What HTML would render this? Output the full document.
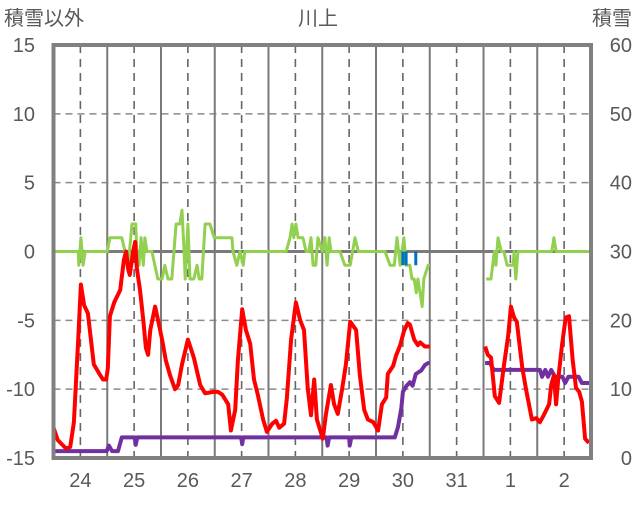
<!DOCTYPE html>
<html><head><meta charset="utf-8"><style>
body{margin:0;background:#fff;width:636px;height:501px;overflow:hidden}
svg text{font-family:"Liberation Sans","Noto Sans CJK JP",sans-serif;fill:#595959}
</style></head><body>
<svg id="chart" width="636" height="501" xmlns="http://www.w3.org/2000/svg">
<g id="grid"></g>
<g id="series"></g>
<g id="axes"></g>
<text x="318" y="25" font-size="20" text-anchor="middle">川上</text>
<text x="4" y="25" font-size="20">積雪以外</text>
<text x="632" y="25" font-size="20" text-anchor="end">積雪</text>
</svg>
<script>
const dayLabels=["24","25","26","27","28","29","30","31","1","2"];
const leftTicks=[-15,-10,-5,0,5,10,15];
const rightTicks=[0,10,20,30,40,50,60];
const tempT=[0,.08,.23,.31,.38,.46,.51,.57,.64,.75,.87,.92,.98,1.01,1.05,1.13,1.24,1.31,1.35,1.39,1.42,1.48,1.52,1.55,1.61,1.67,1.72,1.76,1.8,1.89,1.94,2.02,2.09,2.17,2.26,2.32,2.39,2.5,2.61,2.73,2.82,2.97,3.06,3.14,3.25,3.3,3.38,3.43,3.51,3.58,3.66,3.73,3.8,3.9,3.97,4.07,4.14,4.2,4.29,4.34,4.42,4.51,4.59,4.66,4.73,4.79,4.85,4.9,5.01,5.07,5.16,5.22,5.29,5.37,5.44,5.52,5.63,5.7,5.78,5.85,5.95,6.04,6.11,6.19,6.22,6.32,6.37,6.45,6.52,6.59,6.63,6.71,6.78,6.82,6.91,7.0,null,8.03,8.08,8.14,8.21,8.29,8.38,8.46,8.51,8.57,8.62,8.72,8.79,8.9,8.98,9.05,9.12,9.22,9.26,9.31,9.35,9.39,9.46,9.53,9.59,9.66,9.72,9.78,9.83,9.89,9.96];
const tempV=[-12.8,-13.7,-14.3,-14.2,-12.4,-6.4,-2.4,-3.9,-4.5,-8.2,-9,-9.3,-9.3,-8.5,-4.7,-3.7,-2.8,-0.6,0,-1.3,-1.7,0,0.7,-1.2,-2.8,-5,-7,-7.5,-5.7,-4,-4.9,-6.4,-7.9,-9,-10,-9.7,-8.2,-6.4,-7.7,-9.7,-10.3,-10.2,-10.2,-10.4,-11.1,-13,-11.5,-7.9,-4.2,-5.7,-6.7,-9.3,-10.4,-12.2,-13.1,-12.5,-12.3,-12.8,-12.5,-10.7,-6.4,-3.7,-5,-5.7,-9.9,-11.9,-9.3,-12.2,-13.6,-11.8,-9.7,-11.1,-11.8,-10,-8.2,-5.1,-5.7,-9,-11.5,-12.2,-12.4,-13,-11.1,-10.6,-8.9,-8.3,-7.6,-6.8,-5.8,-5.2,-5.3,-6.4,-6.8,-6.6,-6.9,-6.9,null,-6.9,-7.5,-7.7,-10.5,-11,-8.3,-6.1,-4,-4.8,-5.1,-8.4,-10,-12.2,-12.1,-12.4,-11.9,-11.1,-9.7,-9,-11.1,-9.3,-6.8,-4.8,-4.7,-7.9,-9.9,-10.2,-10.9,-13.6,-13.9];
const snowT=[0,.99,1.03,1.09,1.2,1.27,1.51,1.53,1.56,3.49,3.51,3.53,5.08,5.1,5.13,5.5,5.51,5.54,6.35,6.41,6.47,6.5,6.57,6.63,6.68,6.74,6.84,6.91,6.97,7.0,null,8.03,8.12,8.19,9.05,9.09,9.15,9.2,9.26,9.33,9.47,9.52,9.58,9.77,9.83,10];
const snowV=[1,1,1.8,1,1,3,3,1.9,3,3,2,3,3,1.8,3,3,1.8,3,3,4.5,7.2,9.6,10.5,11,10.5,12.2,12.7,13.5,13.8,13.8,null,13.8,13.8,12.8,12.8,11.8,12.8,11.8,12.8,11.8,11.8,10.9,11.8,11.8,10.9,10.9];
const windT=[0,.46,.47,.51,.55,.59,1,1.05,1.27,1.33,1.39,1.46,1.53,1.55,1.59,1.63,1.67,1.7,1.74,1.83,1.94,2.02,2.07,2.13,2.2,2.28,2.35,2.39,2.43,2.45,2.5,2.54,2.61,2.67,2.71,2.76,2.82,2.91,2.99,3.25,3.32,3.34,3.41,3.47,3.53,3.56,4.33,4.4,4.44,4.47,4.51,4.55,4.64,4.7,4.75,4.79,4.83,4.88,4.92,5,5.05,5.09,5.13,5.16,5.33,5.42,5.52,5.61,5.67,6.17,6.26,6.34,6.39,6.45,6.52,6.56,6.63,6.67,6.71,6.75,6.78,6.82,6.86,6.89,6.97,7,null,8.05,8.14,8.2,8.23,8.27,8.33,8.38,8.44,8.55,8.57,8.6,8.64,9.27,9.31,9.35,10];
const windV=[0,0,-1,1,-1,0,0,1,1,0,-1,2,2,0,-1,1,-1,1,0,0,-2,-2,-1,-2,-2,2,2,3,0,-2,2,-2,-2,-1,-2,-2,2,2,1,1,1,0,-1,0,-1,0,0,1,2,1,2,1,1,0,0,1,-1,-1,1,0,1,-1,1,0,0,-1,-1,1,0,0,-1,-1,1,-1,1,-1,-1,-2,-2,-3,-2,-3,-4,-2,-1,-1,null,-2,-2,0,-1,1,0,0,-1,-1,0,-2,0,0,1,0,0];
const precipT=[6.5,6.56,6.74];
const precipV=[-1,-1,-1];

const X0=53.5,X1=591,Y0=458,Y1=45;
const xs=t=>X0+(X1-X0)*t/10;
const yl=v=>Y0-(Y0-Y1)*(v+15)/30;
const yr=v=>Y0-(Y0-Y1)*v/60;
const NS="http://www.w3.org/2000/svg";
function mk(tag,parent,attrs){const e=document.createElementNS(NS,tag);for(const k in attrs)e.setAttribute(k,attrs[k]);document.getElementById(parent).appendChild(e);return e;}
// grid
leftTicks.forEach(v=>{if(v===-15||v===15||v===0)return;
 const l=mk('line','grid',{x1:X0,x2:X1,y1:yl(v),y2:yl(v),stroke:'#8a8a8a','stroke-width':1.5,'stroke-dasharray':'7,5'});
 
 });
dayLabels.forEach((d,i)=>{
 if(i>0){const l=mk('line','grid',{x1:xs(i),x2:xs(i),y1:Y1,y2:Y0,stroke:'#7a7a7a','stroke-width':2});
 
 }
 const m=mk('line','grid',{x1:xs(i+.5),x2:xs(i+.5),y1:Y1,y2:Y0,stroke:'#666','stroke-width':1.6,'stroke-dasharray':'8,6'});
 
 
 const t=mk('text','axes',{x:xs(i+.5),y:487,'font-size':20,'text-anchor':'middle'});t.textContent=d;
 
 
});
const z=mk('line','grid',{x1:X0,x2:X1,y1:yl(0),y2:yl(0),stroke:'#7a7a7a','stroke-width':3});


leftTicks.forEach(v=>{const t=mk('text','axes',{x:35,y:yl(v)+7,'font-size':20,'text-anchor':'end'});t.textContent=v;
 
 });
rightTicks.forEach(v=>{const t=mk('text','axes',{x:632,y:yr(v)+7,'font-size':20,'text-anchor':'end'});t.textContent=v;
 
 });
const f=mk('rect','axes',{x:X0,y:Y1,width:X1-X0,height:Y0-Y1,fill:'none',stroke:'#808080','stroke-width':4});


function path(T,V,sc){let d='',pen=false;T.forEach((t,i)=>{if(t===null||V[i]===null){pen=false;return;}d+=(pen?'L':'M')+xs(t).toFixed(1)+','+sc(V[i]).toFixed(1);pen=true;});return d;}
const w=mk('path','series',{d:path(windT,windV,yl),fill:'none',stroke:'#92d050','stroke-width':3,'stroke-linejoin':'round'});


precipT.forEach((t,i)=>{const b=mk('line','series',{x1:xs(t),x2:xs(t),y1:yl(0),y2:yl(precipV[i]),stroke:'#0070c0','stroke-width':3});
 
 });
const s=mk('path','series',{d:path(snowT,snowV,yr),fill:'none',stroke:'#7030a0','stroke-width':4,'stroke-linejoin':'round'});


const r=mk('path','series',{d:path(tempT,tempV,yl),fill:'none',stroke:'#ff0000','stroke-width':4,'stroke-linejoin':'round'});


</script>
</body></html>
